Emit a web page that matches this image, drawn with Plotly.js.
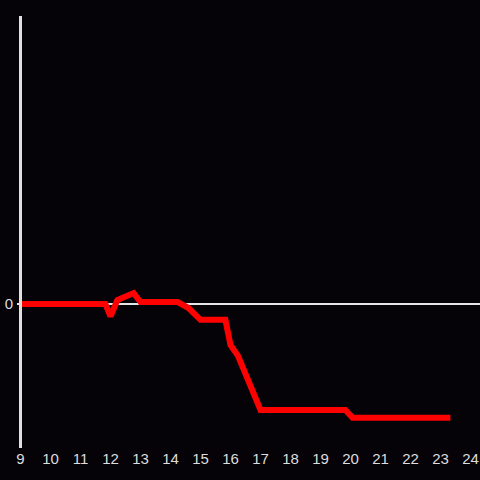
<!DOCTYPE html>
<html>
<head>
<meta charset="utf-8">
<script src="https://cdn.plot.ly/plotly-3.0.1.min.js"></script>
<style>html,body{margin:0;padding:0;background:#050307;}#chart{width:480px;height:480px;}</style>
</head>
<body>
<div id="chart"></div>
<script>
var hours = [9.0, 11.83, 12.0, 12.23, 12.77, 13.0, 14.23, 14.6, 15.0, 15.83, 16.0, 16.25, 17.0, 19.83, 20.07, 23.33];
var values = [0, 0, -8.5, 2.8, 7.6, 1.4, 1.4, -2.8, -11, -11, -28.5, -36, -73.6, -73.6, -79, -79];
var xTicks = [9, 10, 11, 12, 13, 14, 15, 16, 17, 18, 19, 20, 21, 22, 23, 24];

Plotly.newPlot('chart', [{
  x: hours, y: values, type: 'scatter', mode: 'lines',
  line: {color: '#ff0000', width: 6},
  hoverinfo: 'none'
}], {
  width: 480, height: 480,
  paper_bgcolor: '#050307', plot_bgcolor: '#050307',
  margin: {l: 17, r: 0, t: 16, b: 32},
  showlegend: false,
  font: {family: 'Liberation Sans, Arial, sans-serif', size: 15, color: '#dddddd'},
  xaxis: {range: [xTicks[0] - 3.5 / 30, xTicks[0] - 3.5 / 30 + 463 / 30], tickvals: xTicks, ticktext: xTicks.map(String),
    showgrid: false, zeroline: false, showline: false, ticks: '', tickfont: {color: '#dddddd', size: 15}},
  yaxis: {range: [-100, 200], tickvals: [0], ticktext: ['0'], showgrid: false,
    zeroline: true, zerolinecolor: '#e6e6e6', zerolinewidth: 2,
    showline: false, ticks: '', ticklabelstandoff: 3, tickfont: {color: '#dddddd', size: 15}},
  shapes: [{type: 'line', layer: 'above', xref: 'x', yref: 'paper', x0: xTicks[0], x1: xTicks[0], y0: 0, y1: 1,
    line: {color: '#e0e0e0', width: 3}}]
}, {displayModeBar: false, staticPlot: true});
</script>
</body>
</html>
